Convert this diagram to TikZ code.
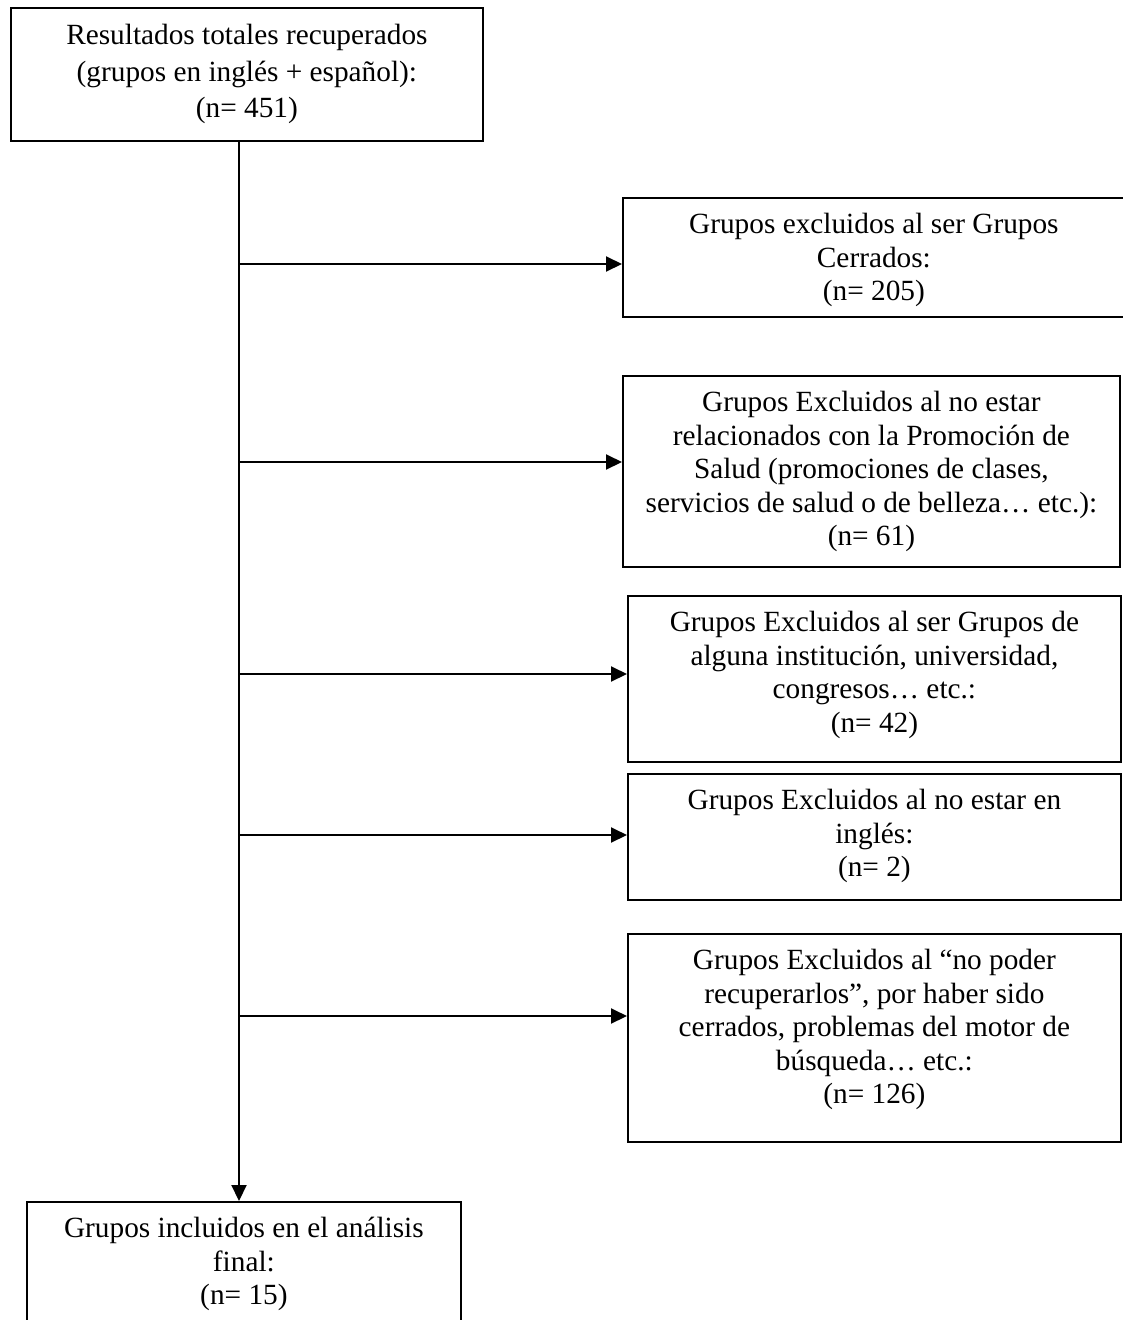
\documentclass[tikz,border=0pt]{standalone}
\usepackage{fontspec}
\setmainfont{Liberation Serif}
\usetikzlibrary{arrows.meta,calc}
\begin{document}
\begin{tikzpicture}[x=1pt,y=-1pt,
  boxnode/.style={draw=black, line width=1.8pt, rectangle, anchor=north west, inner sep=0pt},
  txt/.style={align=center, anchor=north, inner sep=0pt, font=\fontsize{29.3}{33.5}\selectfont},
  txttop/.style={align=center, anchor=north, inner sep=0pt, font=\fontsize{29.3}{36.5}\selectfont},
  conn/.style={line width=2pt, -{Triangle[length=16pt,width=15pt]}},
  ]
\useasboundingbox (0,0) rectangle (1122,1320);

% boxes
\node[boxnode, minimum width=472pt, minimum height=133pt] (top) at (10,7) {};
\node[boxnode, minimum width=502pt, minimum height=119pt] (b1) at (622,197) {};
\node[boxnode, minimum width=497pt, minimum height=191pt] (b2) at (622,375) {};
\node[boxnode, minimum width=493pt, minimum height=166pt] (b3) at (627,595) {};
\node[boxnode, minimum width=493pt, minimum height=126pt] (b4) at (627,773) {};
\node[boxnode, minimum width=493pt, minimum height=208pt] (b5) at (627,933) {};
\node[boxnode, minimum width=434pt, minimum height=140pt] (bot) at (26,1201) {};

% texts
\node[txttop] (ttop) at ([yshift=-12pt]top.north) {\strut Resultados totales recuperados\\(grupos en inglés + español):\\(n= 451)};
\node[txt] (t1) at ([yshift=-13pt]b1.north) {\strut Grupos excluidos al ser Grupos\\Cerrados:\\(n= 205)};
\node[txt] (t2) at ([yshift=-13pt]b2.north) {\strut Grupos Excluidos al no estar\\relacionados con la Promoción de\\Salud (promociones de clases,\\servicios de salud o de belleza… etc.):\\(n= 61)};
\node[txt] (t3) at ([yshift=-13pt]b3.north) {\strut Grupos Excluidos al ser Grupos de\\alguna institución, universidad,\\congresos… etc.:\\(n= 42)};
\node[txt] (t4) at ([yshift=-13pt]b4.north) {\strut Grupos Excluidos al no estar en\\inglés:\\(n= 2)};
\node[txt] (t5) at ([yshift=-13pt]b5.north) {\strut Grupos Excluidos al “no poder\\recuperarlos”, por haber sido\\cerrados, problemas del motor de\\búsqueda… etc.:\\(n= 126)};
\node[txt] (tbot) at ([yshift=-13pt]bot.north) {\strut Grupos incluidos en el análisis\\final:\\(n= 15)};

% spine
\coordinate (vx) at (239,0);
\draw[conn] (top.south -| vx) -- (bot.north -| vx);

% branches
\coordinate (j1) at (239,264);
\coordinate (j2) at (239,462);
\coordinate (j3) at (239,674);
\coordinate (j4) at (239,835);
\coordinate (j5) at (239,1016);
\draw[conn] (j1) -- (j1 -| b1.west);
\draw[conn] (j2) -- (j2 -| b2.west);
\draw[conn] (j3) -- (j3 -| b3.west);
\draw[conn] (j4) -- (j4 -| b4.west);
\draw[conn] (j5) -- (j5 -| b5.west);
\end{tikzpicture}
\end{document}
